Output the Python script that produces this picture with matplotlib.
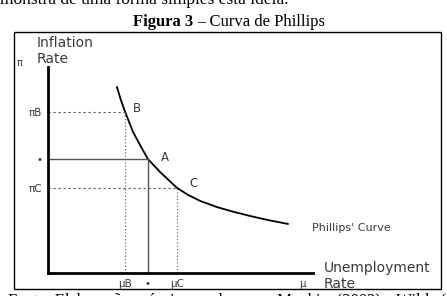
import matplotlib
matplotlib.use("Agg")
import matplotlib.pyplot as plt
from matplotlib.patches import Rectangle

# ---- data (arbitrary units) ----
curve_u = [2.60, 2.75, 2.91, 3.21, 3.50, 3.77, 4.23, 4.87, 5.30, 5.74, 6.38, 7.00, 7.62, 8.30, 9.06]
curve_pi = [9.03, 8.40, 7.82, 6.84, 6.15, 5.53, 4.90, 4.13, 3.78, 3.50, 3.20, 2.97, 2.77, 2.57, 2.38]
point_names = ["B", "A", "C"]
point_u = [2.91, 3.77, 4.87]
point_pi = [7.82, 5.53, 4.13]
ytick_labels = ["πB", "•", "πC"]
xtick_labels = ["μB", "•", "μC"]
x_end_label = "μ"
x_end_value = 9.6

W, H = 447, 296
fig = plt.figure(figsize=(W / 100, H / 100), dpi=100)

# overlay axes in pixel coordinates for page text and frame
ov = fig.add_axes([0, 0, 1, 1])
ov.set_xlim(0, W)
ov.set_ylim(H, 0)
ov.axis("off")

serif = "Liberation Serif"
sans = "DejaVu Sans"
gray = "#3a3a3a"

ov.text(0, 0, "monstra de uma forma simples esta ideia.", family=serif, fontsize=12.5,
        ha="left", va="center", color="black")
ov.text(133, 22, "Figura 3", family=serif, fontsize=12, weight="bold", ha="left", va="center")
ov.text(197, 22, "– Curva de Phillips", family=serif, fontsize=12, ha="left", va="center")
ov.text(8, 301, "Fonte: Elaboração própria com base em Mankiw (2003) e Wilde (1977).",
        family=serif, fontsize=12, ha="left", va="center")
ov.add_patch(Rectangle((14, 32), 427, 257, fill=False, lw=1.0, ec="black"))

ov.text(37, 43, "Inflation", family=sans, fontsize=10, color=gray, ha="left", va="center")
ov.text(37, 59, "Rate", family=sans, fontsize=10, color=gray, ha="left", va="center")
ov.text(20, 63, "π", family=sans, fontsize=7, color=gray, ha="center", va="center")
ov.text(324, 268, "Unemployment", family=sans, fontsize=10, color=gray, ha="left", va="center")
ov.text(324, 284, "Rate", family=sans, fontsize=10, color=gray, ha="left", va="center")

# chart axes
ax = fig.add_axes([48 / W, (H - 273) / H, 265 / W, 206 / H])
ax.set_xlim(0, 10)
ax.set_ylim(0, 10)
ax.patch.set_alpha(0)
for s in ["top", "right"]:
    ax.spines[s].set_visible(False)
for s in ["left", "bottom"]:
    ax.spines[s].set_linewidth(2.0)
    ax.spines[s].set_color("black")

ax.plot(curve_u, curve_pi, color="black", lw=1.3, solid_capstyle="round")

# guide lines
for name, u, p in zip(point_names, point_u, point_pi):
    if name == "A":
        ax.plot([0, u], [p, p], color="#555555", lw=1.0)
        ax.plot([u, u], [0, p], color="#555555", lw=1.0)
    else:
        ax.plot([0, u], [p, p], color="#555555", lw=0.8, ls=(0, (2, 2.5)))
        ax.plot([u, u], [0, p], color="#555555", lw=0.8, ls=(0, (1, 2)))

offsets = {"B": (0.30, 0.15), "A": (0.50, 0.10), "C": (0.45, 0.20)}
for name, u, p in zip(point_names, point_u, point_pi):
    dx, dy = offsets[name]
    ax.text(u + dx, p + dy, name, family=sans, fontsize=8.5, color=gray, ha="left", va="center")

ax.set_yticks(point_pi)
ax.set_yticklabels(ytick_labels, family=sans, fontsize=7.5, color=gray)
ax.set_xticks(point_u + [x_end_value])
ax.set_xticklabels(xtick_labels + [x_end_label], family=sans, fontsize=7.5, color=gray)
ax.tick_params(length=0, pad=4)

ax.text(9.95, 2.2, "Phillips' Curve", family=sans, fontsize=8, color=gray, ha="left", va="center")

fig.savefig("out.png", dpi=100)
